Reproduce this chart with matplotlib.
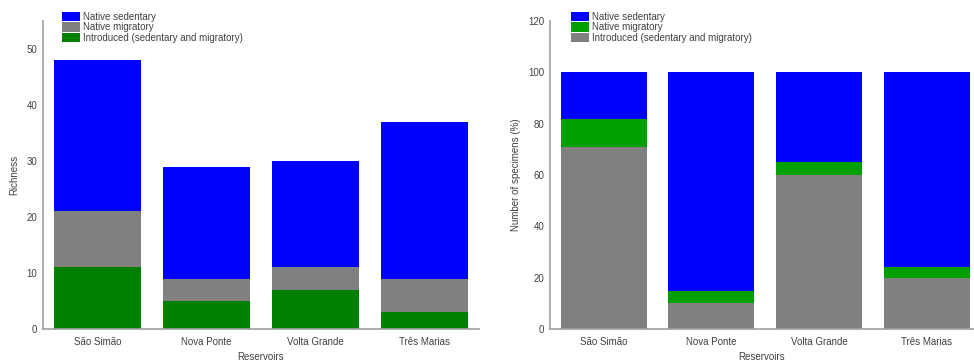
import numpy as np
import matplotlib
matplotlib.use('Agg')
import matplotlib.pyplot as plt

plt.rcParams['font.family'] = ['Liberation Sans', 'DejaVu Sans']

reservoirs = ['São Simão', 'Nova Ponte', 'Volta Grande', 'Três Marias']

# richness (species counts)
rich_introduced = [11, 5, 7, 3]
rich_migratory = [10, 4, 4, 6]
rich_sedentary = [27, 20, 19, 28]

# number of specimens (%)
pct_introduced = [71, 10, 60, 20]
pct_migratory = [11, 5, 5, 4]
pct_sedentary = [18, 85, 35, 76]

blue = '#0000ff'
gray = '#808080'
green_l = '#008000'
green_r = '#009f00'
axis_col = '#a0a0a0'
txt_col = '#404040'

fig = plt.figure(figsize=(9.74, 3.61), dpi=100)
ax1 = fig.add_axes([43 / 974, 32 / 361, 436 / 974, 308 / 361])
ax2 = fig.add_axes([550 / 974, 32 / 361, 424 / 974, 308 / 361])

x = np.arange(len(reservoirs))
w = 0.8

# left panel
b1 = np.array(rich_introduced)
b2 = b1 + np.array(rich_migratory)
ax1.bar(x, rich_introduced, w, color=green_l, label='Introduced (sedentary and migratory)')
ax1.bar(x, rich_migratory, w, bottom=b1, color=gray, label='Native migratory')
ax1.bar(x, rich_sedentary, w, bottom=b2, color=blue, label='Native sedentary')
ax1.set_ylim(0, 55)
ax1.set_xlim(-0.5, 3.5)
ax1.set_yticks([0, 10, 20, 30, 40, 50])
ax1.set_ylabel('Richness', fontsize=7, color=txt_col, labelpad=5)
h, l = ax1.get_legend_handles_labels()
ax1.legend(h[::-1], l[::-1], loc='upper left', bbox_to_anchor=(57 / 974, 1 - 7 / 361),
           bbox_transform=fig.transFigure, frameon=False, fontsize=7,
           handlelength=1.9, handleheight=1.1, labelspacing=0.05, handletextpad=0.3,
           borderpad=0, labelcolor=txt_col)

# right panel
c1 = np.array(pct_introduced)
c2 = c1 + np.array(pct_migratory)
ax2.bar(x, pct_introduced, w, color=gray, label='Introduced (sedentary and migratory)')
ax2.bar(x, pct_migratory, w, bottom=c1, color=green_r, label='Native migratory')
ax2.bar(x, pct_sedentary, w, bottom=c2, color=blue, label='Native sedentary')
ax2.set_ylim(0, 120)
ax2.set_xlim(-0.5, 3.44)
ax2.set_yticks([0, 20, 40, 60, 80, 100, 120])
ax2.set_ylabel('Number of specimens (%)', fontsize=7, color=txt_col, labelpad=5)
h, l = ax2.get_legend_handles_labels()
ax2.legend(h[::-1], l[::-1], loc='upper left', bbox_to_anchor=(566 / 974, 1 - 7 / 361),
           bbox_transform=fig.transFigure, frameon=False, fontsize=7,
           handlelength=1.9, handleheight=1.1, labelspacing=0.05, handletextpad=0.3,
           borderpad=0, labelcolor=txt_col)

for ax in (ax1, ax2):
    ax.set_xticks(x)
    ax.set_xticklabels(reservoirs)
    ax.set_xlabel('Reservoirs', fontsize=7, color=txt_col, labelpad=3)
    ax.tick_params(length=0, labelsize=7, colors=txt_col)
    ax.tick_params(axis='x', pad=6)
    ax.tick_params(axis='y', pad=4)
    for s in ('top', 'right'):
        ax.spines[s].set_visible(False)
    for s in ('left', 'bottom'):
        ax.spines[s].set_color(axis_col)
        ax.spines[s].set_linewidth(1.2)

fig.savefig('out.png', dpi=100)
